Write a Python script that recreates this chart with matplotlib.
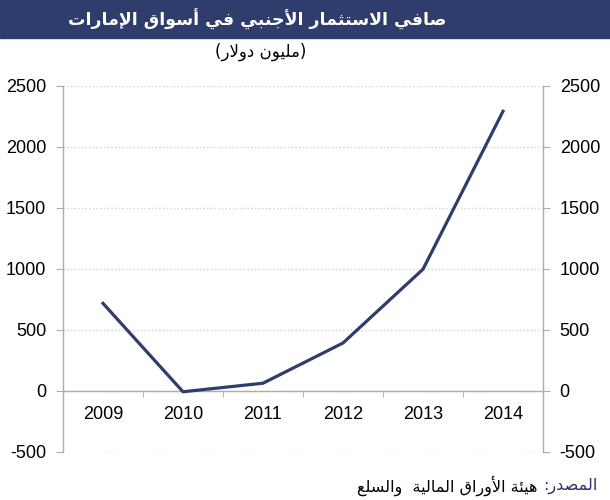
import matplotlib
matplotlib.use('Agg')
import matplotlib.pyplot as plt
from matplotlib.patches import Rectangle

plt.rcParams['font.family'] = ['Liberation Sans', 'DejaVu Sans']

# data
years = ['2009', '2010', '2011', '2012', '2013', '2014']
values = [715, -10, 60, 390, 995, 2290]
yticks = [-500, 0, 500, 1000, 1500, 2000, 2500]

title = 'صافي الاستثمار الأجنبي في أسواق الإمارات'
subtitle = '(مليون دولار)'
source_label = 'المصدر:'
source_text = 'هيئة الأوراق المالية  والسلع'

navy = '#2f3d6d'
axis_grey = '#b3aba4'

# small arabic shaper: (isolated, final, initial, medial)
FORMS = {
    'ا': ('\ufe8d', '\ufe8e', None, None),
    'أ': ('\ufe83', '\ufe84', None, None),
    'إ': ('\ufe87', '\ufe88', None, None),
    'آ': ('\ufe81', '\ufe82', None, None),
    'ب': ('\ufe8f', '\ufe90', '\ufe91', '\ufe92'),
    'ة': ('\ufe93', '\ufe94', None, None),
    'ت': ('\ufe95', '\ufe96', '\ufe97', '\ufe98'),
    'ث': ('\ufe99', '\ufe9a', '\ufe9b', '\ufe9c'),
    'ج': ('\ufe9d', '\ufe9e', '\ufe9f', '\ufea0'),
    'د': ('\ufea9', '\ufeaa', None, None),
    'ر': ('\ufead', '\ufeae', None, None),
    'س': ('\ufeb1', '\ufeb2', '\ufeb3', '\ufeb4'),
    'ص': ('\ufeb9', '\ufeba', '\ufebb', '\ufebc'),
    'ع': ('\ufec9', '\ufeca', '\ufecb', '\ufecc'),
    'ف': ('\ufed1', '\ufed2', '\ufed3', '\ufed4'),
    'ق': ('\ufed5', '\ufed6', '\ufed7', '\ufed8'),
    'ل': ('\ufedd', '\ufede', '\ufedf', '\ufee0'),
    'م': ('\ufee1', '\ufee2', '\ufee3', '\ufee4'),
    'ن': ('\ufee5', '\ufee6', '\ufee7', '\ufee8'),
    'ه': ('\ufee9', '\ufeea', '\ufeeb', '\ufeec'),
    'و': ('\ufeed', '\ufeee', None, None),
    'ي': ('\ufef1', '\ufef2', '\ufef3', '\ufef4'),
    'ئ': ('\ufe89', '\ufe8a', '\ufe8b', '\ufe8c'),
}
LAM_ALEF = {'آ': ('\ufef5', '\ufef6'), 'أ': ('\ufef7', '\ufef8'),
            'إ': ('\ufef9', '\ufefa'), 'ا': ('\ufefb', '\ufefc')}


def dual(c):
    return c in FORMS and FORMS[c][2] is not None


def ar(s):
    out = []
    i = 0
    while i < len(s):
        c = s[i]
        if c not in FORMS:
            out.append(c)
            i += 1
            continue
        conn_prev = i > 0 and dual(s[i - 1])
        if c == 'ل' and i + 1 < len(s) and s[i + 1] in LAM_ALEF:
            iso, fin = LAM_ALEF[s[i + 1]]
            out.append(fin if conn_prev else iso)
            i += 2
            continue
        conn_next = dual(c) and i + 1 < len(s) and s[i + 1] in FORMS
        iso, fin, ini, med = FORMS[c]
        if conn_prev and conn_next:
            out.append(med)
        elif conn_prev:
            out.append(fin)
        elif conn_next:
            out.append(ini)
        else:
            out.append(iso)
        i += 1
    return ''.join(out)[::-1].translate(str.maketrans('()', ')('))


fig = plt.figure(figsize=(6.1, 5.0), dpi=100)

# title bar
fig.add_artist(Rectangle((0, 1 - 38 / 500), 1, 38 / 500, transform=fig.transFigure,
                         color=navy, zorder=0))
fig.text(257 / 610, 1 - 19 / 500, ar(title), color='white', fontsize=12.5, fontweight='bold',
         ha='center', va='center', family=['DejaVu Sans'])
fig.text(261 / 610, 1 - 52 / 500, ar(subtitle), color='black', fontsize=12,
         ha='center', va='center', family=['DejaVu Sans'])

ax = fig.add_axes([63 / 610, 48.5 / 500, 480 / 610, 365.8 / 500])
x = list(range(len(years)))
ax.plot(x, values, color=navy, lw=2.3, zorder=3)

ax.set_xlim(-0.5, len(years) - 0.5)
ax.set_ylim(yticks[0], yticks[-1])
ax.set_yticks(yticks)
ax.set_yticklabels([str(v) for v in yticks])
ax.yaxis.grid(True, color='#d6d0ca', linestyle=':', lw=1.0)
ax.set_axisbelow(True)

ax.spines['top'].set_visible(False)
ax.spines['bottom'].set_position(('data', 0))
for s in ['left', 'right', 'bottom']:
    ax.spines[s].set_color(axis_grey)
    ax.spines[s].set_linewidth(1.0)

ax.set_xticks(x)
ax.set_xticklabels(years)
ax.set_xticks([i + 0.5 for i in x[:-1]], minor=True)
ax.tick_params(axis='x', which='major', length=0, pad=11, labelsize=13)
ax.tick_params(axis='x', which='minor', length=4, direction='out', color=axis_grey)
ax.tick_params(axis='y', length=5, direction='out', color=axis_grey, left=True, right=True,
               labelleft=True, labelright=True, pad=7, labelsize=13)

# source line
t1 = fig.text(597 / 610, 1 - 486 / 500, ar(source_label), color='#2b2f6b', fontsize=11.5,
              ha='right', va='center', family=['DejaVu Sans'])
ax.annotate(ar(source_text), xy=(0, 0.5), xycoords=t1, xytext=(-4, 0),
            textcoords='offset points', ha='right', va='center', fontsize=11.5,
            color='black', family=['DejaVu Sans'], annotation_clip=False)

fig.savefig('out.png', dpi=100)
